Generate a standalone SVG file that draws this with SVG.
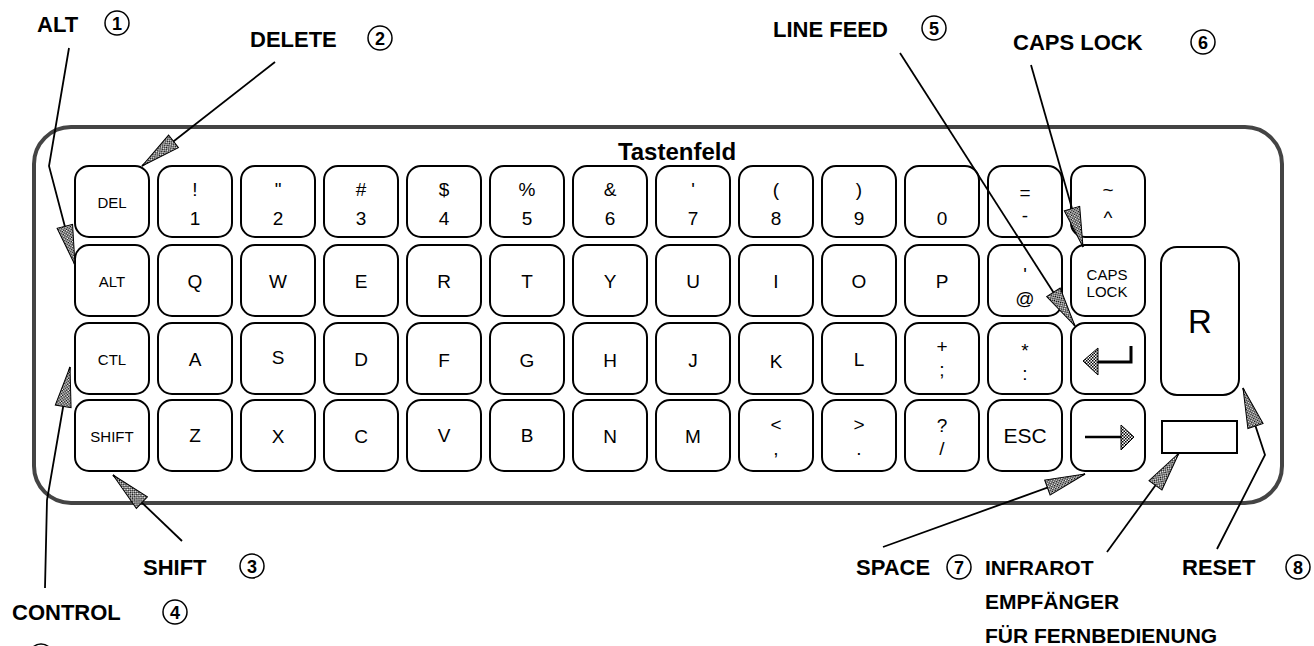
<svg xmlns="http://www.w3.org/2000/svg" width="1314" height="646" viewBox="0 0 1314 646">
<style>
.bg{fill:#fff}
.frame{fill:none;stroke:#444;stroke-width:4}
.key{fill:#fff;stroke:#000;stroke-width:2}
.k{font-family:"Liberation Sans",Arial,Helvetica,sans-serif;font-size:19px;fill:#000;text-anchor:middle}
.ks{font-family:"Liberation Sans",Arial,Helvetica,sans-serif;font-size:15px;fill:#000;text-anchor:middle}
.lbl{font-family:"Liberation Sans",Arial,Helvetica,sans-serif;font-size:22px;font-weight:bold;fill:#000}
.num{font-family:"Liberation Sans",Arial,Helvetica,sans-serif;font-size:18px;font-weight:bold;fill:#000;text-anchor:middle}
.circ{fill:none;stroke:#000;stroke-width:1.5}
.conn{fill:none;stroke:#000;stroke-width:1.8}
.hatch{fill:url(#chk);stroke:#000;stroke-width:1}
</style>
<defs>
<pattern id="chk" width="3" height="3" patternUnits="userSpaceOnUse">
<rect width="3" height="3" fill="#fff"/>
<rect width="1.5" height="1.5" fill="#000"/>
<rect x="1.5" y="1.5" width="1.5" height="1.5" fill="#000"/>
</pattern>
<marker id="ah" viewBox="-42 -9 44 18" refX="0" refY="0" markerWidth="44" markerHeight="18" markerUnits="userSpaceOnUse" orient="auto">
<path d="M0,0 L-40,-8 L-40,8 Z" fill="url(#chk)" stroke="#000" stroke-width="1"/>
</marker>
</defs>
<rect class="bg" x="0" y="0" width="1314" height="646"/>

<g id="keyboard">
<rect class="frame" x="34" y="127" width="1248" height="376" rx="37"/>
<text class="lbl" x="677" y="160" text-anchor="middle" style="font-size:24px">Tastenfeld</text>
</g>

<!-- Row 1 -->
<g id="key-del"><rect class="key" x="75" y="166" width="74" height="71" rx="14"/><text class="ks" x="112" y="208">DEL</text></g>
<g id="key-1"><rect class="key" x="158" y="166" width="74" height="71" rx="14"/><text class="k" x="195" y="196">!</text><text class="k" x="195" y="225">1</text></g>
<g id="key-2"><rect class="key" x="241" y="166" width="74" height="71" rx="14"/><text class="k" x="278" y="196">"</text><text class="k" x="278" y="225">2</text></g>
<g id="key-3"><rect class="key" x="324" y="166" width="74" height="71" rx="14"/><text class="k" x="361" y="196">#</text><text class="k" x="361" y="225">3</text></g>
<g id="key-4"><rect class="key" x="407" y="166" width="74" height="71" rx="14"/><text class="k" x="444" y="196">$</text><text class="k" x="444" y="225">4</text></g>
<g id="key-5"><rect class="key" x="490" y="166" width="74" height="71" rx="14"/><text class="k" x="527" y="196">%</text><text class="k" x="527" y="225">5</text></g>
<g id="key-6"><rect class="key" x="573" y="166" width="74" height="71" rx="14"/><text class="k" x="610" y="196">&amp;</text><text class="k" x="610" y="225">6</text></g>
<g id="key-7"><rect class="key" x="656" y="166" width="74" height="71" rx="14"/><text class="k" x="693" y="196">'</text><text class="k" x="693" y="225">7</text></g>
<g id="key-8"><rect class="key" x="739" y="166" width="74" height="71" rx="14"/><text class="k" x="776" y="196">(</text><text class="k" x="776" y="225">8</text></g>
<g id="key-9"><rect class="key" x="822" y="166" width="74" height="71" rx="14"/><text class="k" x="859" y="196">)</text><text class="k" x="859" y="225">9</text></g>
<g id="key-0"><rect class="key" x="905" y="166" width="74" height="71" rx="14"/><text class="k" x="942" y="225">0</text></g>
<g id="key-minus"><rect class="key" x="988" y="166" width="74" height="71" rx="14"/><text class="k" x="1025" y="199">=</text><text class="k" x="1025" y="222">-</text></g>
<g id="key-caret"><rect class="key" x="1071" y="166" width="74" height="71" rx="14"/><text class="k" x="1108" y="196">~</text><text class="k" x="1108" y="224">^</text></g>

<!-- Row 2 -->
<g id="key-alt"><rect class="key" x="75" y="245" width="74" height="71" rx="14"/><text class="ks" x="112" y="287">ALT</text></g>
<g id="key-q"><rect class="key" x="158" y="245" width="74" height="71" rx="14"/><text class="k" x="195" y="288">Q</text></g>
<g id="key-w"><rect class="key" x="241" y="245" width="74" height="71" rx="14"/><text class="k" x="278" y="288">W</text></g>
<g id="key-e"><rect class="key" x="324" y="245" width="74" height="71" rx="14"/><text class="k" x="361" y="288">E</text></g>
<g id="key-r"><rect class="key" x="407" y="245" width="74" height="71" rx="14"/><text class="k" x="444" y="288">R</text></g>
<g id="key-t"><rect class="key" x="490" y="245" width="74" height="71" rx="14"/><text class="k" x="527" y="288">T</text></g>
<g id="key-y"><rect class="key" x="573" y="245" width="74" height="71" rx="14"/><text class="k" x="610" y="288">Y</text></g>
<g id="key-u"><rect class="key" x="656" y="245" width="74" height="71" rx="14"/><text class="k" x="693" y="288">U</text></g>
<g id="key-i"><rect class="key" x="739" y="245" width="74" height="71" rx="14"/><text class="k" x="776" y="288">I</text></g>
<g id="key-o"><rect class="key" x="822" y="245" width="74" height="71" rx="14"/><text class="k" x="859" y="288">O</text></g>
<g id="key-p"><rect class="key" x="905" y="245" width="74" height="71" rx="14"/><text class="k" x="942" y="288">P</text></g>
<g id="key-at"><rect class="key" x="988" y="245" width="74" height="71" rx="14"/><text class="k" x="1025" y="281">'</text><text class="k" x="1025" y="305">@</text></g>
<g id="key-caps"><rect class="key" x="1071" y="245" width="74" height="71" rx="14"/><text class="ks" x="1107" y="280">CAPS</text><text class="ks" x="1107" y="297">LOCK</text></g>
<g id="key-bigR"><rect class="key" x="1161" y="247" width="78" height="148" rx="16"/><text class="k" x="1200" y="333" style="font-size:33px">R</text></g>

<!-- Row 3 -->
<g id="key-ctl"><rect class="key" x="75" y="323" width="74" height="71" rx="14"/><text class="ks" x="112" y="365">CTL</text></g>
<g id="key-a"><rect class="key" x="158" y="323" width="74" height="71" rx="14"/><text class="k" x="195" y="366">A</text></g>
<g id="key-s"><rect class="key" x="241" y="323" width="74" height="71" rx="14"/><text class="k" x="278" y="364">S</text></g>
<g id="key-d"><rect class="key" x="324" y="323" width="74" height="71" rx="14"/><text class="k" x="361" y="366">D</text></g>
<g id="key-f"><rect class="key" x="407" y="323" width="74" height="71" rx="14"/><text class="k" x="444" y="367">F</text></g>
<g id="key-g"><rect class="key" x="490" y="323" width="74" height="71" rx="14"/><text class="k" x="527" y="367">G</text></g>
<g id="key-h"><rect class="key" x="573" y="323" width="74" height="71" rx="14"/><text class="k" x="610" y="367">H</text></g>
<g id="key-j"><rect class="key" x="656" y="323" width="74" height="71" rx="14"/><text class="k" x="693" y="367">J</text></g>
<g id="key-k"><rect class="key" x="739" y="323" width="74" height="71" rx="14"/><text class="k" x="776" y="368">K</text></g>
<g id="key-l"><rect class="key" x="822" y="323" width="74" height="71" rx="14"/><text class="k" x="859" y="366">L</text></g>
<g id="key-semi"><rect class="key" x="905" y="323" width="74" height="71" rx="14"/><text class="k" x="942" y="353">+</text><text class="k" x="942" y="376">;</text></g>
<g id="key-colon"><rect class="key" x="988" y="323" width="74" height="71" rx="14"/><text class="k" x="1025" y="357">*</text><text class="k" x="1025" y="380">:</text></g>
<g id="key-enter"><rect class="key" x="1071" y="323" width="74" height="71" rx="14"/>
<path d="M1131,346 L1131,362 L1095,362" fill="none" stroke="#000" stroke-width="3"/>
<path class="hatch" d="M1083,361 L1098,348 L1098,375 Z"/></g>

<!-- Row 4 -->
<g id="key-shift"><rect class="key" x="75" y="400" width="74" height="71" rx="14"/><text class="ks" x="112" y="442">SHIFT</text></g>
<g id="key-z"><rect class="key" x="158" y="400" width="74" height="71" rx="14"/><text class="k" x="195" y="442">Z</text></g>
<g id="key-x"><rect class="key" x="241" y="400" width="74" height="71" rx="14"/><text class="k" x="278" y="443">X</text></g>
<g id="key-c"><rect class="key" x="324" y="400" width="74" height="71" rx="14"/><text class="k" x="361" y="443">C</text></g>
<g id="key-v"><rect class="key" x="407" y="400" width="74" height="71" rx="14"/><text class="k" x="444" y="442">V</text></g>
<g id="key-b"><rect class="key" x="490" y="400" width="74" height="71" rx="14"/><text class="k" x="527" y="442">B</text></g>
<g id="key-n"><rect class="key" x="573" y="400" width="74" height="71" rx="14"/><text class="k" x="610" y="443">N</text></g>
<g id="key-m"><rect class="key" x="656" y="400" width="74" height="71" rx="14"/><text class="k" x="693" y="443">M</text></g>
<g id="key-comma"><rect class="key" x="739" y="400" width="74" height="71" rx="14"/><text class="k" x="776" y="431">&lt;</text><text class="k" x="776" y="455">,</text></g>
<g id="key-period"><rect class="key" x="822" y="400" width="74" height="71" rx="14"/><text class="k" x="859" y="431">&gt;</text><text class="k" x="859" y="455">.</text></g>
<g id="key-slash"><rect class="key" x="905" y="400" width="74" height="71" rx="14"/><text class="k" x="942" y="432">?</text><text class="k" x="942" y="455">/</text></g>
<g id="key-esc"><rect class="key" x="988" y="400" width="74" height="71" rx="14"/><text class="k" x="1025" y="443" style="font-size:21px">ESC</text></g>
<g id="key-space"><rect class="key" x="1071" y="400" width="74" height="71" rx="14"/>
<path d="M1085,437 L1122,437" fill="none" stroke="#000" stroke-width="2.5"/>
<path class="hatch" d="M1134,437 L1121,425 L1121,450 Z"/></g>
<g id="ir-receiver"><rect x="1162" y="421" width="75" height="32" fill="#fff" stroke="#000" stroke-width="2"/></g>

<!-- Connectors -->
<g id="connectors">
<polyline class="conn" points="69,48 49,166 75,265" marker-end="url(#ah)"/>
<line class="conn" x1="275" y1="62" x2="142" y2="166" marker-end="url(#ah)"/>
<line class="conn" x1="182" y1="541" x2="113" y2="475" marker-end="url(#ah)"/>
<polyline class="conn" points="45,588 47,500 70,367" marker-end="url(#ah)"/>
<line class="conn" x1="900" y1="53" x2="1075" y2="326" marker-end="url(#ah)"/>
<line class="conn" x1="1031" y1="65" x2="1083" y2="247" marker-end="url(#ah)"/>
<line class="conn" x1="883" y1="547" x2="1085" y2="474" marker-end="url(#ah)"/>
<line class="conn" x1="1107" y1="552" x2="1179" y2="453" marker-end="url(#ah)"/>
<polyline class="conn" points="1217,549 1265,455 1243,388" marker-end="url(#ah)"/>
</g>

<!-- Labels -->
<g id="label-alt"><text class="lbl" x="37" y="32">ALT</text><circle class="circ" cx="117" cy="23" r="12"/><text class="num" x="117" y="29.5">1</text></g>
<g id="label-delete"><text class="lbl" x="250" y="47">DELETE</text><circle class="circ" cx="380" cy="38" r="12"/><text class="num" x="380" y="44.5">2</text></g>
<g id="label-linefeed"><text class="lbl" x="773" y="37">LINE FEED</text><circle class="circ" cx="934" cy="28" r="12"/><text class="num" x="934" y="34.5">5</text></g>
<g id="label-capslock"><text class="lbl" x="1013" y="50">CAPS LOCK</text><circle class="circ" cx="1203" cy="42" r="12"/><text class="num" x="1203" y="48.5">6</text></g>
<g id="label-shift"><text class="lbl" x="143" y="575">SHIFT</text><circle class="circ" cx="252" cy="566" r="12"/><text class="num" x="252" y="572.5">3</text></g>
<g id="label-control"><text class="lbl" x="12" y="620">CONTROL</text><circle class="circ" cx="175" cy="612" r="12"/><text class="num" x="175" y="618.5">4</text></g>
<g id="label-partial"><circle class="circ" cx="41" cy="656" r="12"/></g>
<g id="label-space"><text class="lbl" x="856" y="575">SPACE</text><circle class="circ" cx="959" cy="567" r="12"/><text class="num" x="959" y="573.5">7</text></g>
<g id="label-infrarot"><text class="lbl" x="985" y="575" style="font-size:21px">INFRAROT</text><text class="lbl" x="985" y="609" style="font-size:21px">EMPFÄNGER</text><text class="lbl" x="985" y="643" style="font-size:21px">FÜR FERNBEDIENUNG</text></g>
<g id="label-reset"><text class="lbl" x="1182" y="575">RESET</text><circle class="circ" cx="1298" cy="567" r="12"/><text class="num" x="1298" y="573.5">8</text></g>
</svg>
